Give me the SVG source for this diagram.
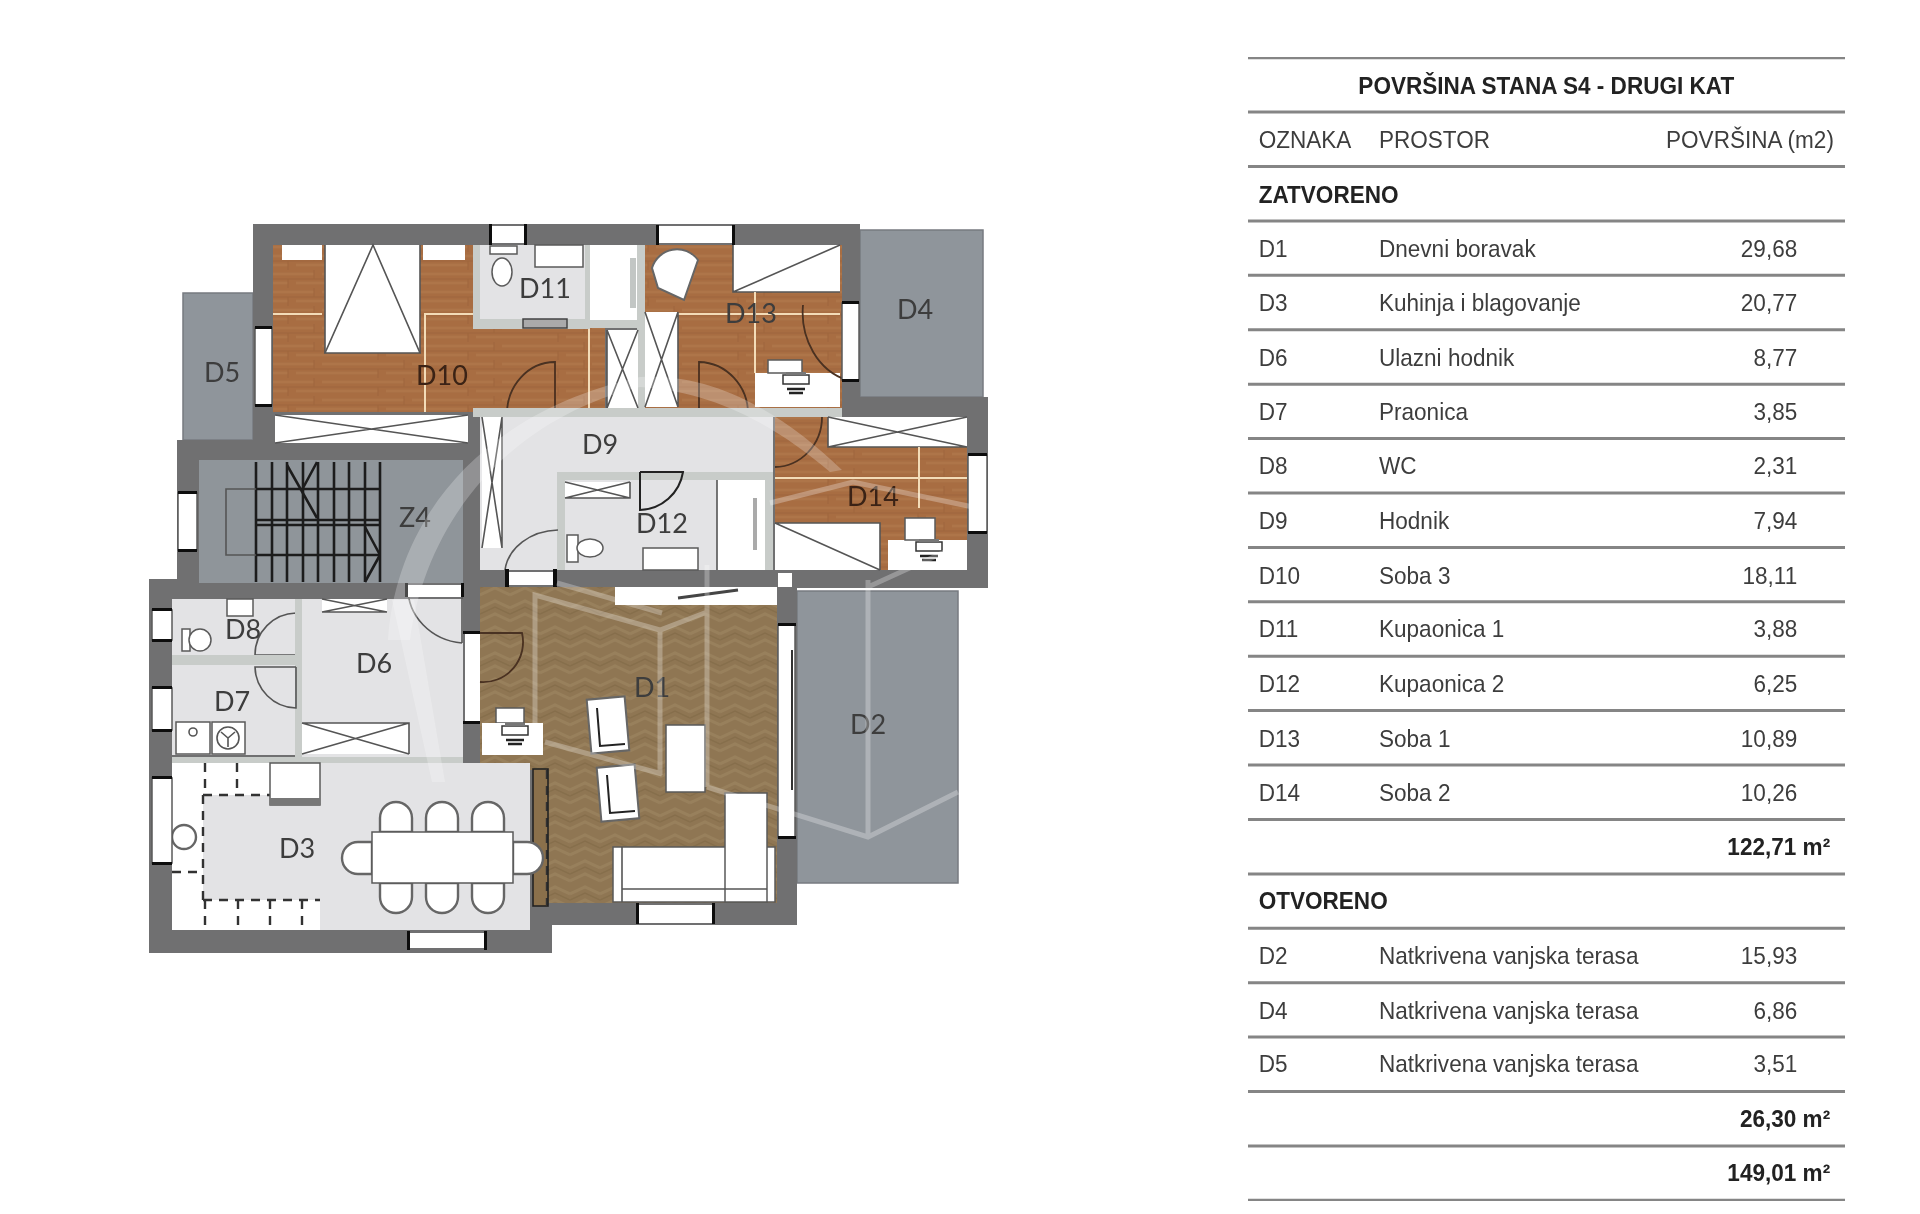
<svg xmlns="http://www.w3.org/2000/svg" width="1920" height="1214" viewBox="0 0 1920 1214">
<style>
.wall{fill:#6f6f71}
.ter{fill:#8f959b;stroke:#777b80;stroke-width:1.5}
.floor{fill:#e3e3e5}
.lw{fill:#c8ccc9}
.w{fill:#fff}
.wo{fill:#fff;stroke:#5a5a5a;stroke-width:1.5}
.ln{fill:none;stroke:#555;stroke-width:1.6}
.dk{fill:none;stroke:#222;stroke-width:2}
.br{fill:none;stroke:#4a3020;stroke-width:1.8}
.cr{fill:none;stroke:#f3dcb8;stroke-width:2}
.dash{fill:none;stroke:#333;stroke-width:2.4;stroke-dasharray:9 7}
.st{stroke:#1e1e1e;stroke-width:2.6;fill:none}
.tick{fill:#111}
.lb{font-family:"Lato","Liberation Sans",sans-serif;font-size:27px;fill:#3c3c3c;text-anchor:middle}
.wm{fill:none;stroke:#fff;stroke-opacity:.28;stroke-width:5}
.wmf{fill:#fff;fill-opacity:.24}
.t{font-family:"Liberation Sans",Arial,sans-serif;font-size:24px;fill:#3d3d3d}
.b{font-weight:bold;fill:#222}
.r{text-anchor:end}
.c{text-anchor:middle}
.rule{stroke:#858585;stroke-width:3}
</style>
<defs>
<filter id="soft" x="0" y="0" width="100%" height="100%"><feGaussianBlur stdDeviation="0.6"/></filter>
<pattern id="wood" width="90" height="18" patternUnits="userSpaceOnUse">
<rect width="90" height="18" fill="#a86d43"/>
<path d="M0 4H44M52 4H90M0 13H18M26 13H90" stroke="#ae7549" stroke-width="2.5"/>
<path d="M0 9H90M44 0V9M18 9V18" stroke="#9f643b" stroke-width="1"/>
</pattern>
<pattern id="herring" width="30" height="26" patternUnits="userSpaceOnUse">
<rect width="30" height="26" fill="#8f7653"/>
<path d="M0 10L15 3L30 10M0 23L15 16L30 23" fill="none" stroke="#98805c" stroke-width="3"/>
<path d="M0 16L15 9L30 16" fill="none" stroke="#866e4c" stroke-width="1.5"/>
</pattern>
<g id="chair"><path d="M-16 0V-14A16 16 0 0 1 16 -14V0Z" fill="#fff" stroke="#666" stroke-width="2.4"/></g>
<g id="deskchair"><rect x="-13" y="-6" width="26" height="9" fill="#fff" stroke="#333" stroke-width="1.5"/><rect x="-10" y="-9" width="20" height="3" fill="#777"/><path d="M-9 8H9M-7 12H7" stroke="#222" stroke-width="2.4"/></g>
</defs>
<rect width="1920" height="1214" fill="#fff"/>
<g filter="url(#soft)">
<g id="D5"><rect class="ter" x="183" y="293" width="70" height="147"/><text class="lb" x="222" y="382">D5</text></g>
<g id="D4"><rect class="ter" x="860" y="230" width="123" height="167"/><text class="lb" x="915" y="319">D4</text></g>
<g id="D2"><rect class="ter" x="797" y="591" width="161" height="292"/><text class="lb" x="868" y="734">D2</text></g>
<g id="walls">
<rect class="wall" x="253" y="224" width="607" height="193"/>
<rect class="wall" x="253" y="410" width="230" height="40"/>
<rect class="wall" x="773" y="397" width="215" height="191"/>
<rect class="wall" x="177" y="440" width="303" height="158"/>
<rect class="wall" x="463" y="400" width="334" height="525"/>
<rect class="wall" x="149" y="579" width="403" height="374"/>
</g>
<g id="D10"><path fill="url(#wood)" d="M273 245H473V327H605V412H273Z"/>
<rect class="w" x="325" y="245" width="95" height="108"/><path class="ln" d="M325 353H420L373 245Z"/><path class="ln" d="M325 245V353M420 245V353"/>
<rect class="w" x="282" y="245" width="40" height="15"/><rect class="w" x="423" y="245" width="42" height="15"/>
<path class="cr" d="M273 314H322M424 314H473M425 314V412M589 327V412"/>
<rect class="w" x="275" y="415" width="193" height="28"/><path class="ln" d="M275 415L468 443M275 443L468 415"/>
<path class="br" d="M555 415V362A48 52 0 0 0 507 415"/>
<rect class="wo" x="255" y="328" width="17" height="77"/><rect class="tick" x="255" y="326" width="17" height="3"/><rect class="tick" x="255" y="404" width="17" height="3"/>
<text class="lb" x="442" y="385" style="fill:#3a2414">D10</text></g>
<g id="D11"><rect class="lw" x="473" y="245" width="117" height="84"/><rect class="floor" x="480" y="245" width="105" height="74"/>
<rect class="wo" x="535" y="245" width="48" height="22"/><ellipse class="wo" cx="502" cy="272" rx="10" ry="14"/><rect class="wo" x="490" y="246" width="27" height="8"/>
<rect x="523" y="319" width="44" height="9" fill="#aaa" stroke="#444" stroke-width="1.5"/>
<rect class="w" x="491" y="226" width="34" height="17"/><rect class="tick" x="489" y="224" width="3" height="21"/><rect class="tick" x="524" y="224" width="3" height="21"/>
<text class="lb" x="545" y="298">D11</text></g>
<g id="D13"><path fill="url(#wood)" d="M645 245H842V410H645Z"/>
<rect class="w" x="733" y="245" width="107" height="47"/><path class="ln" d="M733 292L840 245M733 245V292H840"/>
<rect class="w" x="755" y="373" width="85" height="34"/><rect class="wo" x="768" y="360" width="34" height="13"/>
<use href="#deskchair" x="796" y="381"/>
<path class="cr" d="M678 314H840M755 292V373"/>
<path d="M652 268A26 26 0 0 1 698 260L684 300L658 288Z" fill="#fff" stroke="#666" stroke-width="2"/>
<path class="br" d="M699 415V362A50 52 0 0 1 748 415M803 305A60 70 0 0 0 847 380"/>
<rect class="wo" x="842" y="303" width="17" height="77"/><rect class="tick" x="842" y="301" width="17" height="3"/><rect class="tick" x="842" y="379" width="17" height="3"/>
<rect class="w" x="659" y="226" width="73" height="17"/><rect class="tick" x="656" y="225" width="3" height="20"/><rect class="tick" x="732" y="225" width="3" height="20"/>
<text class="lb" x="751" y="323">D13</text></g>
<g id="closets"><rect class="w" x="590" y="245" width="47" height="75"/><rect x="630" y="258" width="6" height="50" fill="#c2c6c4"/><rect class="lw" x="637" y="245" width="8" height="165"/><rect class="lw" x="590" y="320" width="48" height="8"/>
<rect class="w" x="607" y="330" width="31" height="78"/><path class="ln" d="M607 330L638 408M638 330L607 408M607 330V408"/>
<rect class="w" x="645" y="312" width="33" height="95"/><path class="ln" d="M645 312L678 407M678 312L645 407M678 312V407"/></g>
<g id="D9"><rect class="lw" x="473" y="408" width="369" height="9"/><rect class="floor" x="480" y="417" width="293" height="153"/>
<rect class="w" x="482" y="417" width="20" height="131"/><path class="ln" d="M482 417L502 548M502 417L482 548M502 417V548"/>
<rect class="lw" x="557" y="472" width="216" height="8"/><rect class="lw" x="557" y="472" width="8" height="98"/>
<path class="ln" d="M505 570A55 45 0 0 1 558 530"/>
<rect class="w" x="507" y="572" width="48" height="13"/><rect class="tick" x="505" y="569" width="4" height="18"/><rect class="tick" x="553" y="569" width="4" height="18"/>
<text class="lb" x="600" y="454">D9</text></g>
<g id="D12"><rect class="floor" x="565" y="480" width="152" height="90"/>
<rect class="w" x="565" y="482" width="65" height="16"/><path class="ln" d="M565 482L630 498M630 482L565 498M565 498H630V482"/>
<path class="dk" d="M640 472H683A45 45 0 0 1 640 510V472"/>
<rect class="wo" x="643" y="548" width="55" height="22"/>
<rect class="wo" x="567" y="535" width="11" height="27"/><ellipse class="wo" cx="590" cy="548" rx="13" ry="9"/>
<rect class="w" x="717" y="480" width="48" height="90"/><path class="ln" d="M717 480V570"/><rect x="753" y="498" width="4" height="52" fill="#aaa"/>
<rect class="lw" x="765" y="480" width="8" height="90"/>
<text class="lb" x="662" y="533">D12</text></g>
<g id="D14"><rect fill="url(#wood)" x="775" y="417" width="192" height="153"/>
<rect class="w" x="828" y="417" width="139" height="30"/><path class="ln" d="M828 417L967 447M828 447L967 417M828 417V447H967"/>
<rect class="w" x="775" y="523" width="105" height="47"/><path class="ln" d="M775 523L880 570M775 523H880V570"/>
<rect class="w" x="888" y="540" width="79" height="30"/><rect class="wo" x="905" y="518" width="30" height="22"/><use href="#deskchair" x="929" y="548"/>
<path class="cr" d="M775 478H967M919 447V508"/>
<path class="br" d="M822 417A48 50 0 0 1 775 467"/>
<rect class="wo" x="968" y="455" width="19" height="77"/><rect class="tick" x="968" y="453" width="19" height="3"/><rect class="tick" x="968" y="531" width="19" height="3"/>
<rect class="w" x="778" y="573" width="14" height="14"/>
<text class="lb" x="873" y="506" style="fill:#3a2414">D14</text></g>
<g id="Z4"><rect fill="#8f959a" x="199" y="460" width="264" height="123"/>
<path class="st" d="M256 462V582M272 462V582M287 462V582M303 462V582M318 462V582M334 462V582M349 462V582M365 462V582M380 462V582"/>
<path class="st" d="M256 489H380M256 520H380M256 525H380M256 555H380"/>
<path class="ln" d="M256 489H226V555H256"/>
<path class="st" d="M287 465L317 518M317 462L303 488M365 527L380 555M380 555L365 582"/>
<rect class="wo" x="178" y="493" width="19" height="57"/><rect class="tick" x="178" y="491" width="19" height="3"/><rect class="tick" x="178" y="549" width="19" height="3"/>
<text class="lb" x="415" y="527">Z4</text></g>
<g id="D8"><rect class="floor" x="172" y="599" width="123" height="56"/>
<rect class="wo" x="227" y="599" width="26" height="17"/><rect class="wo" x="182" y="629" width="8" height="22"/><ellipse class="wo" cx="200" cy="640" rx="11" ry="11"/>
<path class="ln" d="M296 613A42 42 0 0 0 255 655H296V613"/>
<rect class="wo" x="152" y="610" width="20" height="30"/><rect class="tick" x="152" y="608" width="20" height="3"/><rect class="tick" x="152" y="639" width="20" height="3"/>
<text class="lb" x="243" y="639">D8</text></g>
<g id="D7"><rect class="floor" x="172" y="665" width="123" height="90"/>
<rect class="lw" x="172" y="655" width="130" height="10"/><rect class="lw" x="295" y="599" width="7" height="160"/>
<path class="ln" d="M296 667H255A42 42 0 0 0 296 708V667"/>
<rect class="wo" x="176" y="722" width="34" height="32"/><rect class="wo" x="212" y="722" width="33" height="32"/><circle class="ln" cx="228" cy="738" r="11"/><path class="ln" d="M221 732L228 738L235 732M228 738V747"/><circle class="ln" cx="193" cy="732" r="4"/>
<rect class="wo" x="152" y="688" width="20" height="42"/><rect class="tick" x="152" y="686" width="20" height="3"/><rect class="tick" x="152" y="729" width="20" height="3"/>
<text class="lb" x="232" y="711">D7</text></g>
<g id="D6"><rect class="floor" x="302" y="599" width="161" height="158"/>
<rect class="w" x="322" y="599" width="65" height="13"/><path class="ln" d="M322 599L387 612M387 599L322 612M322 612H387"/>
<rect class="w" x="302" y="723" width="107" height="31"/><path class="ln" d="M302 723L409 754M409 723L302 754M302 723H409V754"/>
<path class="ln" d="M462 643V587H408A60 55 0 0 0 462 643"/><rect class="w" x="408" y="585" width="54" height="12"/><rect class="tick" x="405" y="583" width="3" height="14"/><rect class="tick" x="461" y="583" width="3" height="14"/>
<rect class="w" x="465" y="633" width="15" height="89"/><rect class="tick" x="463" y="631" width="17" height="3"/><rect class="tick" x="463" y="721" width="17" height="3"/>
<text class="lb" x="374" y="673">D6</text></g>
<g id="D1"><path fill="url(#herring)" d="M480 587H777V903H548V770H480Z"/>
<rect fill="#8a6f4c" x="533" y="769" width="15" height="137"/><path class="dash" d="M547 770V905"/><rect class="ln" x="533" y="769" width="15" height="137" style="stroke:#222"/>
<rect class="w" x="615" y="587" width="162" height="18"/><path d="M678 598L738 590" stroke="#444" stroke-width="3"/>
<rect class="wo" x="496" y="708" width="28" height="15"/>
<rect class="w" x="482" y="723" width="61" height="32"/><use href="#deskchair" x="515" y="732"/>
<path class="br" d="M480 633H522A40 40 0 0 1 480 682"/>
<rect fill="#fff" stroke="#666" stroke-width="2" x="589" y="698" width="38" height="54" transform="rotate(-5 608 725)"/><path class="dk" d="M597 708L600 746L625 744"/>
<rect fill="#fff" stroke="#666" stroke-width="2" x="599" y="766" width="38" height="54" transform="rotate(-5 618 793)"/><path class="dk" d="M607 775L610 813L635 811"/>
<rect class="wo" x="666" y="725" width="39" height="67"/>
<rect class="wo" x="613" y="847" width="162" height="55"/><rect class="wo" x="725" y="793" width="42" height="109"/><path class="ln" d="M622 847V902M622 889H767"/>
<rect class="wo" x="778" y="625" width="17" height="212"/><path d="M792 650V790" stroke="#333" stroke-width="2"/><rect class="tick" x="778" y="623" width="18" height="3"/><rect class="tick" x="778" y="836" width="18" height="3"/>
<rect class="w" x="638" y="905" width="75" height="18"/><rect class="tick" x="636" y="903" width="3" height="21"/><rect class="tick" x="712" y="903" width="3" height="21"/>
<text class="lb" x="652" y="697">D1</text></g>
<g id="D3"><rect class="floor" x="172" y="763" width="358" height="167"/><rect class="lw" x="172" y="757" width="291" height="6"/>
<path class="w" d="M172 763H320V805H270V795H203V900H320V930H172Z"/>
<path class="dash" d="M203 795V900M203 795H270M237 763V795M203 900H320M172 872H203M205 900V930M238 900V930M270 900V930M302 900V930M205 763V795"/>
<rect class="wo" x="270" y="763" width="50" height="42"/><rect x="270" y="798" width="50" height="7" fill="#777"/>
<circle cx="184" cy="837" r="12" fill="#fff" stroke="#666" stroke-width="2.4"/>
<use href="#chair" x="396" y="832"/><use href="#chair" x="442" y="832"/><use href="#chair" x="488" y="832"/>
<use href="#chair" transform="translate(396 883) rotate(180)"/><use href="#chair" transform="translate(442 883) rotate(180)"/><use href="#chair" transform="translate(488 883) rotate(180)"/>
<use href="#chair" transform="translate(372 858) rotate(-90)"/><use href="#chair" transform="translate(513 858) rotate(90)"/>
<rect class="wo" x="372" y="832" width="141" height="51"/>
<rect class="wo" x="152" y="778" width="20" height="85"/><rect class="tick" x="152" y="776" width="20" height="3"/><rect class="tick" x="152" y="862" width="20" height="3"/>
<rect class="w" x="409" y="933" width="76" height="15"/><rect class="tick" x="407" y="931" width="3" height="19"/><rect class="tick" x="484" y="931" width="3" height="19"/>
<text class="lb" x="297" y="858">D3</text></g>
<g id="watermark">
<path class="wmf" d="M388 640C395 530 470 415 640 377C720 372 790 420 842 470L830 472C780 430 720 392 640 387C505 420 425 525 410 640Z"/>
<path class="wmf" d="M392 600L414 600L445 782L432 782Z"/>
<path class="wm" d="M535 745V595L660 630L707 612M660 630V775M707 565V787M557 583L662 613M545 742L662 774M707 787L868 837L958 792M868 580V837M770 503L853 482L973 507M868 587L960 545"/>
</g>
</g>
<g id="table" filter="url(#soft)">
<path class="rule" d="M1248 57.7H1845M1248 112.1H1845M1248 166.5H1845M1248 220.9H1845M1248 275.3H1845M1248 329.8H1845M1248 384.2H1845M1248 438.6H1845M1248 493H1845M1248 547.4H1845M1248 601.8H1845M1248 656.2H1845M1248 710.6H1845M1248 765H1845M1248 819.4H1845M1248 873.9H1845M1248 928.3H1845M1248 982.7H1845M1248 1037.1H1845M1248 1091.5H1845M1248 1145.9H1845M1248 1200.3H1845"/>
<g transform="scale(.94 1)">
<text class="t b c" x="1645" y="93.9">POVRŠINA STANA S4 - DRUGI KAT</text>
<text class="t" x="1339" y="148.3">OZNAKA</text><text class="t" x="1467" y="148.3">PROSTOR</text><text class="t r" x="1951" y="148.3">POVRŠINA (m2)</text>
<text class="t b" x="1339" y="202.7">ZATVORENO</text>
<text class="t" x="1339" y="257.1">D1</text><text class="t" x="1467" y="257.1">Dnevni boravak</text><text class="t r" x="1912" y="257.1">29,68</text>
<text class="t" x="1339" y="311.5">D3</text><text class="t" x="1467" y="311.5">Kuhinja i blagovanje</text><text class="t r" x="1912" y="311.5">20,77</text>
<text class="t" x="1339" y="366">D6</text><text class="t" x="1467" y="366">Ulazni hodnik</text><text class="t r" x="1912" y="366">8,77</text>
<text class="t" x="1339" y="420.4">D7</text><text class="t" x="1467" y="420.4">Praonica</text><text class="t r" x="1912" y="420.4">3,85</text>
<text class="t" x="1339" y="473.8">D8</text><text class="t" x="1467" y="473.8">WC</text><text class="t r" x="1912" y="473.8">2,31</text>
<text class="t" x="1339" y="529.2">D9</text><text class="t" x="1467" y="529.2">Hodnik</text><text class="t r" x="1912" y="529.2">7,94</text>
<text class="t" x="1339" y="583.6">D10</text><text class="t" x="1467" y="583.6">Soba 3</text><text class="t r" x="1912" y="583.6">18,11</text>
<text class="t" x="1339" y="637">D11</text><text class="t" x="1467" y="637">Kupaonica 1</text><text class="t r" x="1912" y="637">3,88</text>
<text class="t" x="1339" y="692.4">D12</text><text class="t" x="1467" y="692.4">Kupaonica 2</text><text class="t r" x="1912" y="692.4">6,25</text>
<text class="t" x="1339" y="746.8">D13</text><text class="t" x="1467" y="746.8">Soba 1</text><text class="t r" x="1912" y="746.8">10,89</text>
<text class="t" x="1339" y="801.2">D14</text><text class="t" x="1467" y="801.2">Soba 2</text><text class="t r" x="1912" y="801.2">10,26</text>
<text class="t b r" x="1947" y="855">122,71 m²</text>
<text class="t b" x="1339" y="909">OTVORENO</text>
<text class="t" x="1339" y="964.5">D2</text><text class="t" x="1467" y="964.5">Natkrivena vanjska terasa</text><text class="t r" x="1912" y="964.5">15,93</text>
<text class="t" x="1339" y="1018.9">D4</text><text class="t" x="1467" y="1018.9">Natkrivena vanjska terasa</text><text class="t r" x="1912" y="1018.9">6,86</text>
<text class="t" x="1339" y="1072.5">D5</text><text class="t" x="1467" y="1072.5">Natkrivena vanjska terasa</text><text class="t r" x="1912" y="1072.5">3,51</text>
<text class="t b r" x="1947" y="1127">26,30 m²</text>
<text class="t b r" x="1947" y="1181.5">149,01 m²</text>
</g>
</g>
</svg>
